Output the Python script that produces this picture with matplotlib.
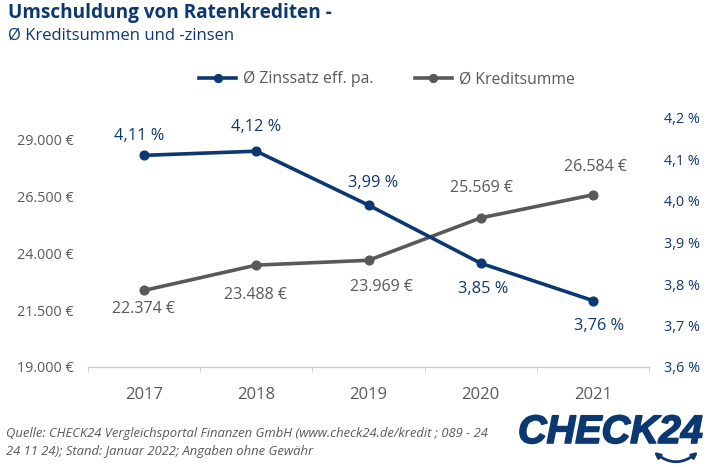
import matplotlib
matplotlib.use('Agg')
import matplotlib.pyplot as plt
import matplotlib.patheffects as pe
from matplotlib.patches import FancyArrowPatch

years = ['2017', '2018', '2019', '2020', '2021']
zins = [4.11, 4.12, 3.99, 3.85, 3.76]
# 2019 point sits lower in the picture than its printed label says
summe = [22374, 23488, 23700, 25569, 26584]
zins_labels = ['4,11 %', '4,12 %', '3,99 %', '3,85 %', '3,76 %']
summe_labels = ['22.374 €', '23.488 €', '23.969 €', '25.569 €', '26.584 €']
left_ticks = [19000, 21500, 24000, 26500, 29000]
left_labels = ['19.000 €', '21.500 €', '24.000 €', '26.500 €', '29.000 €']
right_ticks = [3.6, 3.7, 3.8, 3.9, 4.0, 4.1, 4.2]
right_labels = ['3,6 %', '3,7 %', '3,8 %', '3,9 %', '4,0 %', '4,1 %', '4,2 %']

NAVY = '#0c3871'
GREY = '#595959'
AXIS = '#c8c8c8'
W, H = 710, 467

plt.rcParams['font.family'] = ['Open Sans', 'DejaVu Sans']

fig = plt.figure(figsize=(7.1, 4.67), dpi=100)
# axes box in pixels: x 88-649, y 118-367
ax = fig.add_axes([88 / W, 1 - 367 / H, 561 / W, 249 / H])
ax2 = ax.twinx()

x = list(range(len(years)))
ax.plot(x, summe, color=GREY, lw=2.6, marker='o', ms=6.3, label='Ø Kreditsumme')
ax2.plot(x, zins, color=NAVY, lw=2.6, marker='o', ms=6.3, label='Ø Zinssatz eff. pa.')

ax.set_xlim(-0.5, 4.5)
ax.set_ylim(19000, 29969)
ax2.set_ylim(3.6, 4.2)

ax.set_xticks(x)
ax.set_xticklabels(years, fontsize=12, color=GREY)
ax.set_xticks([-0.5, 0.5, 1.5, 2.5, 3.5, 4.5], minor=True)
ax.set_yticks(left_ticks)
ax.set_yticklabels(left_labels, fontsize=10.4, color=GREY)
ax2.set_yticks(right_ticks)
ax2.set_yticklabels(right_labels, fontsize=10.4, color=NAVY)

for a in (ax, ax2):
    for s in ['top', 'left', 'right']:
        a.spines[s].set_visible(False)
    a.spines['bottom'].set_color(AXIS)
ax.tick_params(axis='y', length=0, pad=10.5)
ax2.tick_params(axis='y', length=0, pad=11)
ax.tick_params(axis='x', which='major', length=0, pad=14.5)
ax.tick_params(axis='x', which='minor', length=3.5, color=AXIS)

# label offsets from the points, in pixels
zins_off = [(-5, 19), (0, 24), (5, 22), (2, -26), (6, -25)]
summe_off = [(-1, -19), (-1, -30), (13, -27), (1, 30), (3, 28)]
for i in x:
    ax2.annotate(zins_labels[i], (i, zins[i]), xytext=(zins_off[i][0] * 0.72, zins_off[i][1] * 0.72),
                 textcoords='offset points', ha='center', va='center', fontsize=11.8, color=NAVY)
    ax.annotate(summe_labels[i], (i, summe[i]), xytext=(summe_off[i][0] * 0.72, summe_off[i][1] * 0.72),
                textcoords='offset points', ha='center', va='center', fontsize=11.5, color=GREY)

# legend
h1, l1 = ax2.get_legend_handles_labels()
h2, l2 = ax.get_legend_handles_labels()
fig.legend(h1 + h2, l1 + l2, ncol=2, loc='center', bbox_to_anchor=(387 / W, 1 - 79 / H),
           frameon=False, fontsize=11.3, labelcolor=GREY, columnspacing=2.6, handlelength=2.35,
           handletextpad=0.45, markerscale=0.9)

# title
fig.text(8 / W, 1 - 13 / H, 'Umschuldung von Ratenkrediten -', fontsize=13.7, fontweight='bold',
         color=NAVY, va='center')
fig.text(8 / W, 1 - 36 / H, 'Ø Kreditsummen und -zinsen', fontsize=12, color=NAVY, va='center')

# source
fig.text(6 / W, 1 - 434 / H, 'Quelle: CHECK24 Vergleichsportal Finanzen GmbH (www.check24.de/kredit ; 089 - 24',
         fontsize=9.4, style='italic', color=GREY, va='center')
fig.text(6 / W, 1 - 451 / H, '24 11 24); Stand: Januar 2022; Angaben ohne Gewähr',
         fontsize=9.4, style='italic', color=GREY, va='center')

# logo
fig.text(518 / W, 1 - 432 / H, 'CHECK24', fontsize=28.5, fontweight='bold', style='italic',
         family='Liberation Sans', color=NAVY, va='center', ha='left',
         path_effects=[pe.withStroke(linewidth=1.2, foreground=NAVY)])
smile = FancyArrowPatch((654 / W, 1 - 452 / H), (698 / W, 1 - 452 / H), transform=fig.transFigure,
                        connectionstyle='arc3,rad=0.4', arrowstyle='<|-|>', mutation_scale=8,
                        color=NAVY, lw=2, shrinkA=0, shrinkB=0)
fig.add_artist(smile)

fig.savefig('out.png', dpi=100)
